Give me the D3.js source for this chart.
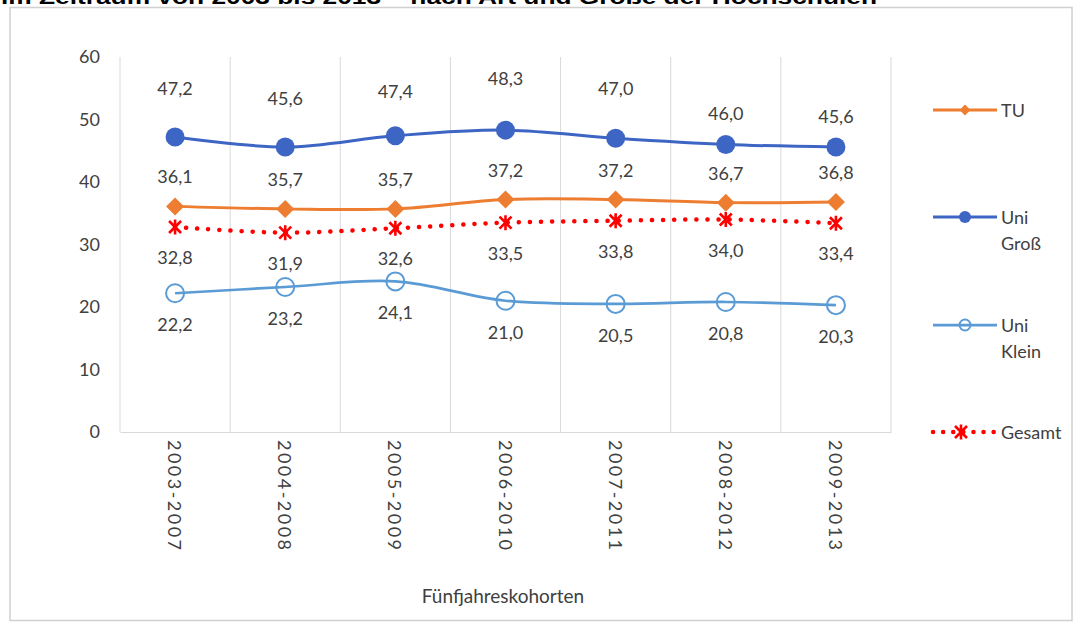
<!DOCTYPE html>
<html><head><meta charset="utf-8">
<script src="https://cdn.jsdelivr.net/npm/d3@7"></script>
<style>
body{margin:0;background:#fff}
svg{display:block}
text{font-family:Lato,"Open Sans",sans-serif}
</style>
</head><body>
<svg id="c" width="1076" height="624"></svg>
<script>
// ---- data ----
const categories = ["2003-2007","2004-2008","2005-2009","2006-2010","2007-2011","2008-2012","2009-2013"];
const tu       = [36.1, 35.7, 35.7, 37.2, 37.2, 36.7, 36.8];
const uniGross = [47.2, 45.6, 47.4, 48.3, 47.0, 46.0, 45.6];
const uniKlein = [22.2, 23.2, 24.1, 21.0, 20.5, 20.8, 20.3];
const gesamt   = [32.8, 31.9, 32.6, 33.5, 33.8, 34.0, 33.4];
const yTicks = [0, 10, 20, 30, 40, 50, 60];
const seriesNames = ["TU", "Uni Groß", "Uni Klein", "Gesamt"];
const xTitle = "Fünfjahreskohorten";
const titleText = "im Zeitraum von 2003 bis 2013 – nach Art und Größe der Hochschulen";
// label vertical offsets (layout)
const grossLabelDy = [-49, -49, -45, -52, -50, -32, -31];

const svg = d3.select("#c");
const textColor = "#404040";
const locale = d3.formatLocale({decimal: ",", thousands: ".", grouping: [3], currency: ["", "€"]});
const fmt = locale.format(".1f");

// title (cut off at the top)
svg.append("text").attr("x", 1).attr("y", 4)
  .attr("font-family", "'Liberation Sans', Arial, sans-serif")
  .style("font-family", "'Liberation Sans', Arial, sans-serif")
  .attr("font-weight", "bold").attr("font-size", 21).attr("fill", "#000")
  .attr("textLength", 876).attr("lengthAdjust", "spacingAndGlyphs")
  .text(titleText);

// frame
svg.append("rect").attr("x", 10).attr("y", 7.5).attr("width", 1062).attr("height", 613)
  .attr("fill", "none").attr("stroke", "#d0d0d0").attr("stroke-width", 1.5);

const x = d3.scaleBand().domain(categories).range([120, 891]);
const y = d3.scaleLinear().domain([0, 60]).range([432, 57]);
const cx = c => x(c) + x.bandwidth() / 2;

// vertical gridlines at band edges
const edges = categories.map(c => x(c)).concat([x.range()[1]]);
svg.append("g").selectAll("line").data(edges).join("line")
  .attr("x1", d => d).attr("x2", d => d)
  .attr("y1", y(60)).attr("y2", y(0))
  .attr("stroke", "#d9d9d9").attr("stroke-width", 1);

// y axis
const gy = svg.append("g").attr("transform", "translate(120,0)")
  .call(d3.axisLeft(y).tickValues(yTicks).tickSize(0).tickPadding(20));
gy.select(".domain").remove();
gy.selectAll("text").attr("font-size", 18).attr("fill", textColor)
  .style("font-family", "Lato, 'Open Sans', sans-serif");

// x axis
const gx = svg.append("g").attr("transform", "translate(0," + y(0) + ")")
  .call(d3.axisBottom(x).tickSize(0).tickSizeOuter(0));
gx.select(".domain").attr("stroke", "#d9d9d9");
gx.selectAll("text")
  .attr("y", 0).attr("dy", null)
  .attr("transform", "translate(0,8) rotate(90)")
  .attr("text-anchor", "start").attr("dominant-baseline", "central")
  .attr("font-size", 18).attr("fill", textColor)
  .style("font-family", "Lato, 'Open Sans', sans-serif")
  .attr("textLength", 110).attr("lengthAdjust", "spacing");

svg.append("text").attr("x", 503).attr("y", 595)
  .attr("text-anchor", "middle").attr("dominant-baseline", "central")
  .attr("font-size", 19).attr("fill", textColor).text(xTitle);

// series
const colTU = "#ED7D31", colGross = "#3D66C4", colKlein = "#5B9BD5", colGes = "#FF0000";
const line = d3.line().x((d, i) => cx(categories[i])).y(d => y(d)).curve(d3.curveCatmullRom.alpha(0.5));

// Uni Klein
svg.append("path").datum(uniKlein).attr("d", line)
  .attr("fill", "none").attr("stroke", colKlein).attr("stroke-width", 2.75);
svg.append("g").selectAll("circle").data(uniKlein).join("circle")
  .attr("cx", (d, i) => cx(categories[i])).attr("cy", d => y(d)).attr("r", 9)
  .attr("fill", "none").attr("stroke", colKlein).attr("stroke-width", 2);

// Gesamt (dotted)
svg.append("path").datum(gesamt).attr("d", line)
  .attr("fill", "none").attr("stroke", colGes).attr("stroke-width", 4.5)
  .attr("stroke-dasharray", "0.1 11").attr("stroke-linecap", "round");
const starPath = "M0,-7.5V7.5M-6,-6L6,6M-6,6L6,-6";
svg.append("g").selectAll("path").data(gesamt).join("path")
  .attr("transform", (d, i) => `translate(${cx(categories[i])},${y(d)})`)
  .attr("d", starPath).attr("stroke", colGes).attr("stroke-width", 2.6).attr("fill", "none");

// TU
svg.append("path").datum(tu).attr("d", line)
  .attr("fill", "none").attr("stroke", colTU).attr("stroke-width", 3);
const diamond = "M0,-9L9,0L0,9L-9,0Z";
svg.append("g").selectAll("path").data(tu).join("path")
  .attr("transform", (d, i) => `translate(${cx(categories[i])},${y(d)})`)
  .attr("d", diamond).attr("fill", colTU);

// Uni Groß
svg.append("path").datum(uniGross).attr("d", line)
  .attr("fill", "none").attr("stroke", colGross).attr("stroke-width", 3);
svg.append("g").selectAll("circle").data(uniGross).join("circle")
  .attr("cx", (d, i) => cx(categories[i])).attr("cy", d => y(d)).attr("r", 9.5)
  .attr("fill", colGross);

// data labels
function labels(arr, dyFn) {
  svg.append("g").selectAll("text").data(arr).join("text")
    .attr("x", (d, i) => cx(categories[i]))
    .attr("y", (d, i) => y(d) + dyFn(i))
    .attr("text-anchor", "middle").attr("dominant-baseline", "central")
    .attr("font-size", 18).attr("fill", textColor)
    .text(d => fmt(d));
}
labels(uniGross, i => grossLabelDy[i]);
labels(tu, i => -30);
labels(gesamt, i => 30);
labels(uniKlein, i => 31);

// legend
const lg = svg.append("g");
const legX1 = 933, legX2 = 997, legM = 965, legT = 1001;
const legY = [110, 217, 325, 432];
// TU
lg.append("line").attr("x1", legX1).attr("x2", legX2).attr("y1", legY[0]).attr("y2", legY[0]).attr("stroke", colTU).attr("stroke-width", 3);
lg.append("path").attr("transform", `translate(${legM},${legY[0]}) scale(0.6)`).attr("d", diamond).attr("fill", colTU);
// Uni Groß
lg.append("line").attr("x1", legX1).attr("x2", legX2).attr("y1", legY[1]).attr("y2", legY[1]).attr("stroke", colGross).attr("stroke-width", 3);
lg.append("circle").attr("cx", legM).attr("cy", legY[1]).attr("r", 6).attr("fill", colGross);
// Uni Klein
lg.append("line").attr("x1", legX1).attr("x2", legX2).attr("y1", legY[2]).attr("y2", legY[2]).attr("stroke", colKlein).attr("stroke-width", 2.75);
lg.append("circle").attr("cx", legM).attr("cy", legY[2]).attr("r", 5.5).attr("fill", "none").attr("stroke", colKlein).attr("stroke-width", 2);
// Gesamt
lg.append("line").attr("x1", legX1).attr("x2", legX2).attr("y1", legY[3]).attr("y2", legY[3])
  .attr("stroke", colGes).attr("stroke-width", 4.5).attr("stroke-dasharray", "0.1 10").attr("stroke-linecap", "round");
lg.append("path").attr("transform", `translate(${legM - 4},${legY[3]})`).attr("d", starPath).attr("stroke", colGes).attr("stroke-width", 2.6);

const legLines = [["TU"], ["Uni", "Groß"], ["Uni", "Klein"], ["Gesamt"]];
legLines.forEach((ls, k) => {
  ls.forEach((t, j) => {
    lg.append("text").attr("x", legT).attr("y", legY[k] + j * 26)
      .attr("dominant-baseline", "central").attr("font-size", 18).attr("fill", textColor).text(t);
  });
});
</script>
</body></html>
